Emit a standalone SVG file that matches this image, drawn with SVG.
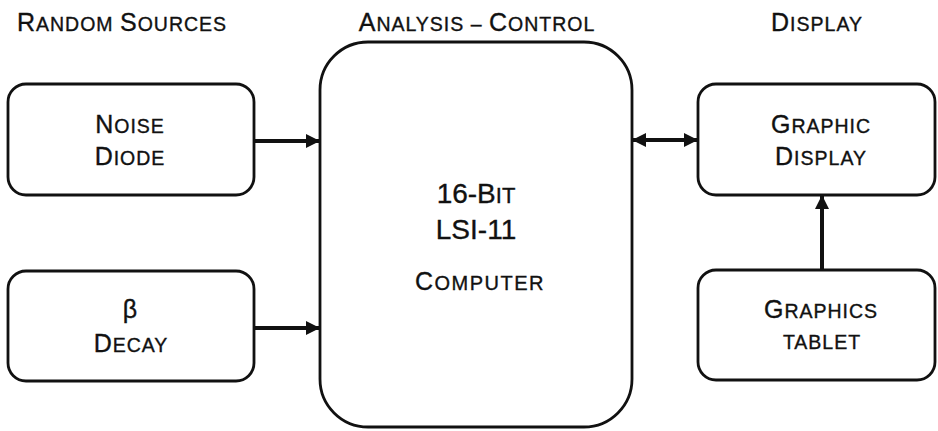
<svg xmlns="http://www.w3.org/2000/svg" width="938" height="431" viewBox="0 0 938 431">
<defs>
<style>
text{font-family:"Liberation Sans",Arial,Helvetica,sans-serif;fill:#111;stroke:#111;stroke-width:0.35px;text-anchor:middle}
.hd{letter-spacing:1px}
.L{font-size:25px}
.S{font-size:19.5px}
.box{fill:#fff;stroke:#111;stroke-width:2.8}
.conn{stroke:#111;stroke-width:4;fill:none}
</style>
<marker id="ah" viewBox="0 0 14 14" refX="13" refY="7" markerWidth="14" markerHeight="14" markerUnits="userSpaceOnUse" orient="auto-start-reverse">
<path d="M0,0 L14,7 L0,14 Z" fill="#111"/>
</marker>
</defs>
<rect width="938" height="431" fill="#fff"/>

<g id="headers">
<text class="hd" x="122" y="31"><tspan class="L">R</tspan><tspan class="S">ANDOM </tspan><tspan class="L">S</tspan><tspan class="S">OURCES</tspan></text>
<text class="hd" x="477" y="31"><tspan class="L">A</tspan><tspan class="S">NALYSIS – </tspan><tspan class="L">C</tspan><tspan class="S">ONTROL</tspan></text>
<text class="hd" x="817" y="31"><tspan class="L">D</tspan><tspan class="S">ISPLAY</tspan></text>
</g>

<g id="connectors">
<line class="conn" x1="254" y1="141" x2="319" y2="141" marker-end="url(#ah)"/>
<line class="conn" x1="254" y1="328" x2="319" y2="328" marker-end="url(#ah)"/>
<line class="conn" x1="633" y1="140" x2="697" y2="140" marker-start="url(#ah)" marker-end="url(#ah)"/>
<line class="conn" x1="822" y1="270" x2="822" y2="196" marker-end="url(#ah)"/>
</g>

<g id="noise-diode">
<rect class="box" x="8" y="84" width="246" height="111" rx="18"/>
<text class="hd" x="130" y="133"><tspan class="L">N</tspan><tspan class="S">OISE</tspan></text>
<text class="hd" x="130" y="165"><tspan class="L">D</tspan><tspan class="S">IODE</tspan></text>
</g>

<g id="beta-decay">
<rect class="box" x="8" y="271" width="246" height="110" rx="18"/>
<text x="130" y="318" style="font-size:25px">β</text>
<text class="hd" x="131" y="352"><tspan class="L">D</tspan><tspan class="S">ECAY</tspan></text>
</g>

<g id="computer">
<rect class="box" x="320" y="42" width="312" height="385" rx="48"/>
<text x="476" y="203"><tspan style="font-size:28px">16-B</tspan><tspan style="font-size:22px">IT</tspan></text>
<text x="476" y="239" style="font-size:28px">LSI-11</text>
<text class="hd" x="480" y="290" style="letter-spacing:1.5px"><tspan class="L">C</tspan><tspan style="font-size:20px">OMPUTER</tspan></text>
</g>

<g id="graphic-display">
<rect class="box" x="698" y="84" width="237" height="111" rx="18"/>
<text class="hd" x="821" y="133"><tspan class="L">G</tspan><tspan class="S">RAPHIC</tspan></text>
<text class="hd" x="821" y="165"><tspan class="L">D</tspan><tspan class="S">ISPLAY</tspan></text>
</g>

<g id="graphics-tablet">
<rect class="box" x="698" y="270" width="237" height="110" rx="18"/>
<text class="hd" x="821" y="318"><tspan class="L">G</tspan><tspan class="S">RAPHICS</tspan></text>
<text class="hd S" x="822" y="349">TABLET</text>
</g>
</svg>
